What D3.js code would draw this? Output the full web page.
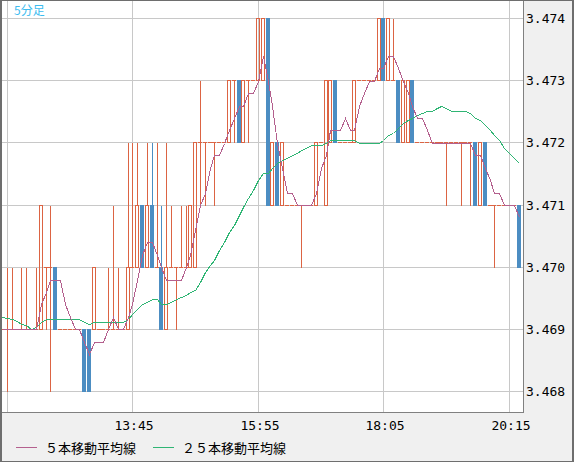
<!DOCTYPE html>
<html>
<head>
<meta charset="utf-8">
<script src="https://cdnjs.cloudflare.com/ajax/libs/d3/7.8.5/d3.min.js"></script>
<style>
    body { margin: 0; background: #fff; }
    svg { display: block; }
</style>
</head>
<body>
<script>
//5 minute candles, first candle at 11:30
var firstTime = "11:30";

var open = [
    3.469,3.469,3.469,3.469,3.469,3.469,3.469,3.469,3.469,3.470,
    3.470,3.470,3.469,3.469,3.469,3.469,3.469,3.469,3.469,3.469,
    3.469,3.469,3.469,3.469,3.469,3.469,3.469,3.470,3.470,3.471,
    3.470,3.471,3.470,3.470,3.469,3.470,3.470,3.470,3.470,3.470,
    3.470,3.472,3.472,3.472,3.472,3.472,3.472,3.472,3.473,3.473,
    3.472,3.473,3.473,3.473,3.473,3.474,3.471,3.472,3.471,3.471,
    3.471,3.471,3.471,3.471,3.471,3.471,3.472,3.471,3.472,3.473,
    3.472,3.472,3.472,3.472,3.473,3.473,3.473,3.473,3.473,3.474,
    3.473,3.473,3.473,3.472,3.472,3.473,3.472,3.472,3.472,3.472,
    3.472,3.472,3.472,3.472,3.472,3.472,3.472,3.472,3.472,3.471,
    3.472,3.471,3.471,3.471,3.471,3.471,3.471,3.471
];
var high = [
    3.469,3.470,3.470,3.469,3.470,3.470,3.469,3.470,3.471,3.470,
    3.471,3.470,3.469,3.469,3.469,3.469,3.469,3.469,3.469,3.470,
    3.469,3.469,3.470,3.471,3.470,3.469,3.472,3.472,3.472,3.471,
    3.472,3.472,3.472,3.471,3.472,3.471,3.470,3.471,3.471,3.471,
    3.472,3.473,3.472,3.472,3.472,3.472,3.472,3.473,3.473,3.473,
    3.473,3.473,3.473,3.474,3.474,3.474,3.472,3.472,3.472,3.471,
    3.471,3.471,3.471,3.471,3.471,3.472,3.472,3.473,3.473,3.473,
    3.472,3.472,3.472,3.473,3.473,3.473,3.473,3.473,3.474,3.474,
    3.474,3.474,3.473,3.473,3.473,3.473,3.472,3.472,3.472,3.472,
    3.472,3.472,3.472,3.472,3.472,3.472,3.472,3.472,3.472,3.472,
    3.472,3.471,3.471,3.471,3.471,3.471,3.471,3.471
];
var low = [
    3.469,3.468,3.469,3.469,3.469,3.469,3.469,3.469,3.469,3.469,
    3.468,3.469,3.469,3.469,3.469,3.469,3.469,3.468,3.468,3.469,
    3.469,3.469,3.469,3.469,3.469,3.469,3.469,3.470,3.470,3.470,
    3.470,3.470,3.470,3.469,3.469,3.470,3.469,3.470,3.470,3.470,
    3.470,3.471,3.471,3.472,3.471,3.472,3.472,3.472,3.472,3.472,
    3.472,3.472,3.473,3.473,3.473,3.471,3.471,3.471,3.471,3.471,
    3.471,3.471,3.470,3.471,3.471,3.471,3.472,3.471,3.472,3.472,
    3.472,3.472,3.472,3.472,3.473,3.473,3.473,3.473,3.473,3.473,
    3.473,3.473,3.472,3.472,3.472,3.472,3.472,3.472,3.472,3.472,
    3.472,3.472,3.471,3.472,3.472,3.471,3.472,3.471,3.471,3.471,
    3.471,3.471,3.470,3.471,3.471,3.471,3.471,3.470
];
var close = [
    3.469,3.469,3.469,3.469,3.469,3.469,3.469,3.469,3.471,3.470,
    3.470,3.469,3.469,3.469,3.469,3.469,3.469,3.468,3.468,3.470,
    3.469,3.469,3.469,3.469,3.469,3.469,3.470,3.470,3.471,3.470,
    3.471,3.470,3.470,3.469,3.470,3.470,3.470,3.470,3.470,3.471,
    3.472,3.472,3.472,3.472,3.472,3.472,3.472,3.473,3.473,3.472,
    3.473,3.473,3.473,3.474,3.474,3.471,3.472,3.471,3.472,3.471,
    3.471,3.471,3.471,3.471,3.471,3.472,3.472,3.473,3.473,3.472,
    3.472,3.472,3.472,3.473,3.473,3.473,3.473,3.473,3.474,3.473,
    3.474,3.473,3.472,3.473,3.473,3.472,3.472,3.472,3.472,3.472,
    3.472,3.472,3.472,3.472,3.472,3.472,3.472,3.472,3.471,3.472,
    3.471,3.471,3.471,3.471,3.471,3.471,3.471,3.470
];

//moving averages
var ma5 = [
    3.4690,3.4690,3.4690,3.4690,3.4690,3.4690,3.4690,3.4690,3.4694,3.4696,
    3.4698,3.4698,3.4698,3.4694,3.4692,3.4690,3.4690,3.4688,3.4686,3.4688,
    3.4688,3.4688,3.4690,3.4692,3.4690,3.4690,3.4692,3.4694,3.4698,3.4702,
    3.4704,3.4704,3.4702,3.4700,3.4698,3.4698,3.4698,3.4698,3.4700,3.4702,
    3.4706,3.4710,3.4712,3.4716,3.4718,3.4718,3.4720,3.4722,3.4724,3.4726,
    3.4726,3.4728,3.4728,3.4730,3.4734,3.4730,3.4726,3.4720,3.4716,3.4712,
    3.4712,3.4710,3.4710,3.4710,3.4710,3.4712,3.4716,3.4718,3.4722,3.4722,
    3.4722,3.4724,3.4722,3.4722,3.4726,3.4728,3.4730,3.4730,3.4732,3.4732,
    3.4734,3.4734,3.4732,3.4730,3.4728,3.4726,3.4724,3.4724,3.4722,3.4720,
    3.4720,3.4720,3.4720,3.4720,3.4720,3.4720,3.4720,3.4720,3.4718,3.4718,
    3.4716,3.4714,3.4712,3.4712,3.4710,3.4710,3.4710,3.4708
];
var ma25 = [
    3.46920,3.46918,3.46916,3.46914,3.46909,3.46907,3.46900,3.46904,3.46912,3.46916,
    3.46916,3.46916,3.46916,3.46916,3.46916,3.46916,3.46916,3.46912,3.46908,3.46912,
    3.46912,3.46912,3.46912,3.46912,3.46912,3.46912,3.46916,3.46924,3.46932,3.46940,
    3.46944,3.46948,3.46948,3.46940,3.46940,3.46944,3.46948,3.46952,3.46956,3.46960,
    3.46964,3.46976,3.46992,3.47004,3.47012,3.47028,3.47040,3.47056,3.47068,3.47084,
    3.47096,3.47112,3.47124,3.47140,3.47152,3.47152,3.47160,3.47168,3.47172,3.47176,
    3.47180,3.47184,3.47188,3.47192,3.47196,3.47196,3.47196,3.47200,3.47204,3.47204,
    3.47204,3.47204,3.47204,3.47204,3.47200,3.47200,3.47200,3.47200,3.47200,3.47204,
    3.47212,3.47216,3.47224,3.47232,3.47236,3.47240,3.47244,3.47248,3.47252,3.47252,
    3.47256,3.47260,3.47256,3.47252,3.47252,3.47252,3.47252,3.47248,3.47240,3.47236,
    3.47228,3.47220,3.47212,3.47204,3.47192,3.47184,3.47176,3.47168
];

var priceTicks = [3.468, 3.469, 3.470, 3.471, 3.472, 3.473, 3.474];
var timeTicks = ["11:35", "13:45", "15:55", "18:05", "20:15"];
var legendNames = ["５本移動平均線", "２５本移動平均線"];

var upColor = "#dc6443",
    downColor = "#4c8dc2",
    ma5Color = "#b4608e",
    ma25Color = "#2fb574";

function drawChart(){
    var width = 574,
        height = 462;

    //plot frame
    var plotRight = 523,
        plotBottom = 412;

    var svg = d3.select("body")
        .append("svg")
        .attr("width", width)
        .attr("height", height);

    //grey panel + white plot area
    svg.append("rect")
        .attr("width", width)
        .attr("height", height)
        .attr("fill", "#f0f0f0");
    svg.append("rect")
        .attr("x", 0)
        .attr("y", 0)
        .attr("width", plotRight)
        .attr("height", plotBottom)
        .attr("fill", "#ffffff");

    //candle times
    var parseTime = d3.timeParse("%H:%M"),
        formatTime = d3.timeFormat("%H:%M"),
        start = parseTime(firstTime);
    var times = close.map(function(d, i){
        return formatTime(d3.timeMinute.offset(start, 5 * i));
    });

    var x = d3.scalePoint()
        .domain(times)
        .range([2.6, 2.6 + 4.827 * (times.length - 1)]);

    var y = d3.scaleLinear()
        .domain([3.468, 3.474])
        .range([391.5, 18.5]);

    //snap to pixel centres
    function px(t){ return Math.floor(x(t)) + 0.5; }
    function py(v){ return Math.floor(y(v)) + 0.5; }

    var clip = svg.append("clipPath")
        .attr("id", "plotClip")
        .append("rect")
        .attr("x", 2)
        .attr("y", 1)
        .attr("width", plotRight - 2)
        .attr("height", plotBottom - 1);

    //grid lines
    var grid = svg.append("g")
        .attr("shape-rendering", "crispEdges")
        .attr("stroke", "#c8c8c8")
        .attr("stroke-width", 1);

    grid.selectAll(".hgrid")
        .data(priceTicks)
        .enter()
        .append("line")
        .attr("class", "hgrid")
        .attr("x1", 0)
        .attr("x2", plotRight)
        .attr("y1", py)
        .attr("y2", py);

    grid.selectAll(".vgrid")
        .data(timeTicks)
        .enter()
        .append("line")
        .attr("class", "vgrid")
        .attr("x1", px)
        .attr("x2", px)
        .attr("y1", 0)
        .attr("y2", plotBottom);

    //candles
    var candles = times.map(function(t, i){
        return {t: t, o: open[i], h: high[i], l: low[i], c: close[i]};
    });

    var plot = svg.append("g")
        .attr("clip-path", "url(#plotClip)");

    var cg = plot.append("g")
        .attr("shape-rendering", "crispEdges");

    var candle = cg.selectAll(".candle")
        .data(candles)
        .enter()
        .append("g")
        .attr("class", "candle");

    candle.each(function(d){
        var g = d3.select(this),
            cx = px(d.t),
            colour = d.c < d.o ? downColor : upColor,
            top = Math.max(d.o, d.c),
            bottom = Math.min(d.o, d.c);

        //upper and lower wicks
        if (d.h > top){
            g.append("line")
                .attr("x1", cx).attr("x2", cx)
                .attr("y1", py(d.h)).attr("y2", py(top))
                .attr("stroke", colour);
        }
        if (d.l < bottom){
            g.append("line")
                .attr("x1", cx).attr("x2", cx)
                .attr("y1", py(bottom)).attr("y2", py(d.l))
                .attr("stroke", colour);
        }

        if (d.o == d.c){
            //doji: just a tick
            g.append("line")
                .attr("x1", cx - 2.5).attr("x2", cx + 1.5)
                .attr("y1", py(d.o)).attr("y2", py(d.o))
                .attr("stroke", upColor);
        } else if (d.c > d.o){
            //hollow up body
            g.append("rect")
                .attr("x", cx - 2)
                .attr("y", py(top))
                .attr("width", 3)
                .attr("height", py(bottom) - py(top))
                .attr("fill", "none")
                .attr("stroke", upColor);
        } else {
            //filled down body
            g.append("rect")
                .attr("x", cx - 2.5)
                .attr("y", py(top) - 0.5)
                .attr("width", 4)
                .attr("height", py(bottom) - py(top) + 1)
                .attr("fill", downColor);
        }
    });

    //moving average lines
    var line = function(values){
        return d3.line()
            .x(function(d, i){ return px(times[i]); })
            .y(function(d){ return Math.round(y(d)) + 0.5; })(values);
    };

    plot.append("path")
        .attr("d", line(ma25))
        .attr("fill", "none")
        .attr("stroke", ma25Color)
        .attr("stroke-width", 1)
        .attr("shape-rendering", "crispEdges");

    plot.append("path")
        .attr("d", line(ma5))
        .attr("fill", "none")
        .attr("stroke", ma5Color)
        .attr("stroke-width", 1)
        .attr("shape-rendering", "crispEdges");

    //plot frame
    var frame = svg.append("g")
        .attr("shape-rendering", "crispEdges")
        .attr("stroke", "#808080");
    frame.append("line")
        .attr("x1", plotRight + 0.5).attr("x2", plotRight + 0.5)
        .attr("y1", 0).attr("y2", plotBottom + 1);
    frame.append("line")
        .attr("x1", 0).attr("x2", plotRight + 1)
        .attr("y1", plotBottom + 0.5).attr("y2", plotBottom + 0.5);

    //outer border
    var border = svg.append("g")
        .attr("fill", "#6e6e6e");
    border.append("rect").attr("x", 0).attr("y", 0).attr("width", width).attr("height", 1);
    border.append("rect").attr("x", 0).attr("y", height - 1).attr("width", width).attr("height", 1);
    border.append("rect").attr("x", 0).attr("y", 0).attr("width", 2).attr("height", height);
    border.append("rect").attr("x", width - 2).attr("y", 0).attr("width", 2).attr("height", height);

    //price labels
    svg.selectAll(".plabel")
        .data(priceTicks)
        .enter()
        .append("text")
        .attr("class", "plabel")
        .attr("x", 526)
        .attr("y", function(d){ return py(d) + 4.5; })
        .attr("font-family", "DejaVu Sans Mono")
        .attr("font-size", 13)
        .attr("fill", "#000")
        .text(d3.format(".3f"));

    //time labels (skip the one that would not fit at the left edge)
    svg.selectAll(".tlabel")
        .data(timeTicks.filter(function(t){ return px(t) > 20; }))
        .enter()
        .append("text")
        .attr("class", "tlabel")
        .attr("x", function(d){ return px(d) + 1.5; })
        .attr("y", 430)
        .attr("text-anchor", "middle")
        .attr("font-family", "DejaVu Sans Mono")
        .attr("font-size", 13)
        .attr("fill", "#000")
        .text(function(d){ return d; });

    //chart title
    svg.append("text")
        .attr("x", 14)
        .attr("y", 15)
        .attr("font-family", "Noto Sans CJK JP")
        .attr("font-size", 12)
        .attr("fill", "#3cbcf0")
        .text("5分足");

    //legend
    var legendX = [16, 153],
        legendColors = [ma5Color, ma25Color];

    var legend = svg.selectAll(".legend")
        .data(legendNames)
        .enter()
        .append("g")
        .attr("class", "legend")
        .attr("transform", function(d, i){ return "translate(" + legendX[i] + ",447)"; });

    legend.append("line")
        .attr("x1", 0)
        .attr("x2", 21)
        .attr("y1", 0.5)
        .attr("y2", 0.5)
        .attr("stroke", function(d, i){ return legendColors[i]; })
        .attr("shape-rendering", "crispEdges");

    legend.append("text")
        .attr("x", 29)
        .attr("y", 6)
        .attr("font-family", "Noto Sans CJK JP")
        .attr("font-size", 13)
        .attr("fill", "#000")
        .text(function(d){ return d; });
};

window.onload = drawChart();
</script>
</body>
</html>
